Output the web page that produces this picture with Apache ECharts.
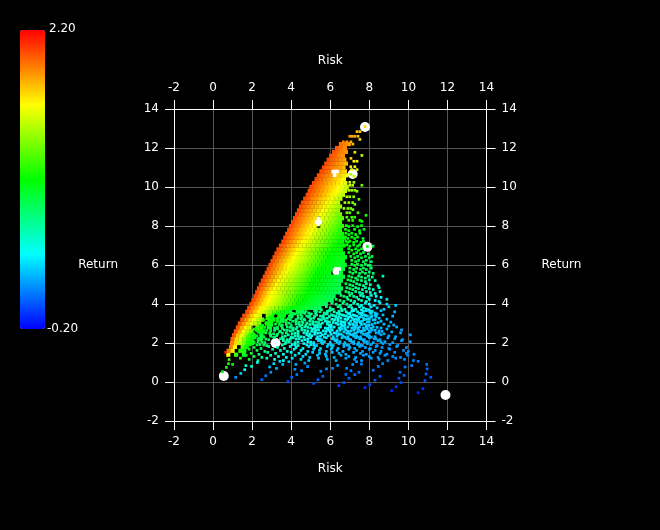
<!DOCTYPE html>
<html><head><meta charset="utf-8">
<style>html,body{margin:0;padding:0;background:#000}#c{width:660px;height:530px}</style>
<script src="https://cdn.jsdelivr.net/npm/echarts@6/dist/echarts.min.js"></script>
</head><body><div id="c"></div>
<script>
const returnRange=[-0.2,2.2];
const rampColors=['#0000ff','#00ffff','#00ff00','#ffff00','#ff0000'];
const axisRange=[-2,14];
const axisStep=2;
// highlighted portfolios: risk, return axis value
const whitePoints=[[0.55,0.31],[3.2,2.0],[5.36,8.25],[6.25,10.72],[6.36,5.7],[7.15,10.67],[7.9,6.93],[7.78,13.08],[11.9,-0.67]];
// solid part of the cloud, read row by row: [y, first x, returns at 0.2 spacing]
const cellStep=0.2;
const solidRows=[
[1.4,0.78,[1.6,null,1.15,null,0.9]],
[1.6,0.8,[1.9,1.65,null,1.1,0.95]],
[1.8,0.92,[1.9,1.6,null,1.2,1.0]],
[2.0,0.98,[1.9,1.7,1.45,1.25,1.05,0.95]],
[2.2,1.0,[1.95,1.7,1.5,1.3,1.15,1.0,null,0.8]],
[2.4,1.08,[2.0,1.75,1.55,1.35,1.2,1.05,null,0.85]],
[2.6,1.17,[2.0,1.8,1.6,1.42,1.28,null,1.05,0.92]],
[2.8,1.27,[2.0,1.8,1.62,1.48,null,1.25,1.1,null,0.95]],
[3.0,1.37,[2.0,1.85,1.7,1.55,1.42,1.3,null,1.1,1.0]],
[3.2,1.5,[2.0,1.85,1.7,1.58,1.45,1.33,null,1.1,1.0,null,0.9]],
[3.4,1.6,[2.02,1.88,1.74,1.6,1.48,null,1.3,1.2,null,1.05,0.98,null,0.9]],
[3.6,1.75,[2.02,1.88,1.75,1.61,1.5,1.4,1.3,1.2,1.1,1.0,0.95,0.9,null,0.85,0.8]],
[3.8,1.85,[2.02,1.89,1.76,1.63,1.55,1.47,1.39,1.31,1.23,1.15,1.07,1.0,0.97,0.94,0.91,0.88,0.84,0.8,0.77]],
[4.0,1.97,[2.02,1.9,1.78,1.66,1.58,1.51,1.44,1.36,1.29,1.22,1.15,1.07,1.0,0.97,0.94,0.91,0.87,0.84,0.81,0.78]],
[4.2,2.07,[2.02,1.9,1.78,1.66,1.59,1.52,1.45,1.38,1.31,1.24,1.17,1.1,1.03,0.99,0.96,0.93,0.9,0.87,0.84,0.81,0.78]],
[4.4,2.17,[2.02,1.9,1.78,1.66,1.59,1.52,1.45,1.38,1.31,1.24,1.17,1.1,1.03,1.0,0.97,0.94,0.91,0.88,0.85,0.82,0.79]],
[4.6,2.26,[2.02,1.9,1.79,1.67,1.6,1.53,1.47,1.4,1.33,1.27,1.2,1.13,1.07,1.0,0.98,0.95,0.92,0.89,0.87,0.84,0.81,0.78]],
[4.8,2.35,[2.02,1.91,1.8,1.69,1.6,1.53,1.47,1.4,1.33,1.27,1.2,1.13,1.07,1.0,0.98,0.95,0.93,0.9,0.88,0.85,0.83,0.8]],
[5.0,2.45,[2.02,1.92,1.81,1.71,1.6,1.53,1.47,1.4,1.33,1.27,1.2,1.13,1.07,1.0,0.98,0.95,0.93,0.9,0.88,0.85,0.83]],
[5.2,2.55,[2.02,1.92,1.82,1.72,1.62,1.54,1.47,1.41,1.34,1.27,1.21,1.14,1.07,1.0,0.98,0.96,0.93,0.91,0.88,0.86,0.84]],
[5.4,2.65,[2.02,1.92,1.83,1.73,1.64,1.56,1.49,1.42,1.36,1.29,1.22,1.15,1.08,1.01,0.99,0.97,0.95,0.92,0.9,0.87,0.85]],
[5.6,2.75,[2.02,1.93,1.84,1.74,1.65,1.57,1.5,1.43,1.36,1.29,1.22,1.15,1.08,1.0,0.98,0.96,0.94,null,null,0.88]],
[5.8,2.85,[2.02,1.93,1.84,1.75,1.66,1.58,1.51,1.44,1.37,1.3,1.23,1.16,1.09,1.02,1.0,0.98,0.96,null,null,0.9]],
[6.0,2.94,[2.02,1.93,1.84,1.75,1.66,1.58,1.51,1.45,1.38,1.31,1.25,1.18,1.11,1.05,1.0,0.98,0.96,0.94,0.92,0.9]],
[6.2,3.05,[2.02,1.93,1.84,1.75,1.66,1.59,1.52,1.46,1.39,1.32,1.26,1.19,1.12,1.06,1.0,0.98,0.96,0.94,0.92]],
[6.4,3.15,[2.02,1.93,1.84,1.76,1.67,1.6,1.53,1.47,1.4,1.33,1.27,1.2,1.13,1.07,1.0,0.98,0.96,0.94,0.92]],
[6.6,3.25,[2.02,1.94,1.85,1.77,1.68,1.6,1.53,1.46,1.4,1.33,1.26,1.19,1.12,1.06,1.01,0.99,0.97,0.95]],
[6.8,3.35,[2.02,1.94,1.86,1.78,1.7,1.62,1.55,1.48,1.41,1.34,1.27,1.2,1.13,1.07,1.02,1.0,0.98]],
[7.0,3.48,[2.02,1.94,1.86,1.78,1.7,1.62,1.55,1.49,1.42,1.35,1.28,1.21,1.15,1.08,1.03,1.01,0.99]],
[7.2,3.6,[2.02,1.94,1.86,1.78,1.7,1.62,1.55,1.49,1.42,1.35,1.29,1.22,1.15,1.09,1.03,1.01]],
[7.4,3.7,[2.02,1.94,1.87,1.79,1.71,1.64,1.57,1.5,1.43,1.36,1.29,1.23,1.16,1.1,1.04,1.01]],
[7.6,3.8,[2.02,1.94,1.87,1.79,1.71,1.64,1.58,1.51,1.44,1.37,1.3,1.23,1.16,1.09,1.04]],
[7.8,3.9,[2.02,1.94,1.87,1.79,1.71,1.64,1.58,1.51,1.44,1.37,1.3,1.23,1.16,1.09]],
[8.0,4.0,[2.02,1.95,1.87,1.8,1.72,1.65,1.59,null,1.45,1.38,1.31,1.24,1.17,1.1]],
[8.2,4.1,[2.02,1.95,1.88,1.81,1.74,1.67,null,null,1.46,1.39,1.32,1.25,1.18]],
[8.4,4.2,[2.02,1.95,1.88,1.81,1.74,1.67,null,1.54,1.47,1.4,1.33,1.26,1.2]],
[8.6,4.3,[2.02,1.95,1.88,1.81,1.74,1.67,1.6,1.54,1.47,1.4,1.33,1.27]],
[8.8,4.4,[2.02,1.95,1.88,1.82,1.75,1.68,1.61,1.55,1.48,1.41,1.35]],
[9.0,4.5,[2.02,1.95,1.89,1.82,1.76,1.69,1.63,1.56,1.49,1.42,1.36]],
[9.2,4.6,[2.02,1.96,1.89,1.83,1.76,1.7,1.63,1.57,1.5,1.44]],
[9.4,4.72,[2.02,1.96,1.89,1.83,1.76,1.7,1.63,1.57,1.5,1.44]],
[9.6,4.85,[2.02,1.96,1.89,1.83,1.76,1.7,1.63,1.57,1.5,1.44]],
[9.8,4.95,[2.02,1.96,1.9,1.84,1.77,1.71,1.65,1.59,1.53,1.47]],
[10.0,5.04,[2.02,1.96,1.9,1.84,1.78,1.72,1.66,1.6,1.54,1.48]],
[10.2,5.17,[2.02,1.96,1.9,1.84,1.78,1.72,1.66,1.6,1.54]],
[10.4,5.3,[2.02,1.96,1.9,1.84,1.78,1.72,1.66,1.6]],
[10.6,5.42,[2.02,1.96,1.9,1.84,null,1.72,1.66,1.6]],
[10.8,5.55,[2.02,1.96,1.91,null,null,1.75,1.7]],
[11.0,5.68,[2.02,1.97,1.92,1.87,1.82,1.77]],
[11.2,5.8,[2.02,1.97,1.92,1.87,1.82,1.77]],
[11.4,5.92,[2.02,1.97,1.92,1.87,1.82]],
[11.6,6.05,[2.0,1.95,1.9,1.85]],
[11.8,6.2,[2.0,1.95,1.9,1.85]],
[12.0,6.35,[2.0,1.93,1.87]],
[12.2,6.55,[1.95,1.9,1.84]]
];
// scattered points, read row by row: [y, x, return, x, return, ...]
const dotRows=[
[13.1,7.78,1.7],[12.84,7.37,1.75,7.52,1.72],[12.6,7.0,1.85,7.13,1.8,7.26,1.78,7.42,1.74],[12.44,7.52,1.7],
[12.32,6.67,1.9,6.85,1.85,7.06,1.8],[12.2,7.16,1.75],[11.78,7.26,1.68],[11.62,7.62,1.45],[11.47,7.06,1.72],
[11.32,7.21,1.6,7.37,1.55],[11.04,7.05,1.65,7.26,1.55],[10.89,7.1,1.6,7.37,1.5],[10.65,7.05,1.4],[10.55,7.21,1.45],[10.24,7.0,1.5,7.21,1.4],
[10.09,7.0,1.45,7.15,1.4,7.62,1.25],[9.83,6.95,1.42,7.1,1.38,7.26,1.35],[9.78,7.37,1.3],[9.5,6.85,1.4,7.0,1.35,7.2,1.28],[9.37,7.47,1.2],[9.2,6.75,1.4,6.95,1.33,7.15,1.28],
[9.11,7.26,1.25],[8.9,6.7,1.38,6.9,1.3,7.05,1.27],[8.84,7.16,1.25],[8.68,6.85,1.27,7.0,1.22,7.42,1.15],[8.55,7.83,1.05],[8.45,6.85,1.22,7.1,1.15,7.25,1.12],
[8.29,6.95,1.18,7.15,1.12,7.52,1.08],[8.24,7.62,1.05],
[8.02,6.82,1.05,7.15,1.0,7.6,0.97],[7.97,6.95,1.02,7.4,0.98],[7.83,6.78,1.05,7.25,0.98,7.73,0.95],[7.76,6.95,1.0,7.5,0.96],[7.63,6.8,1.03,7.1,0.99,7.52,0.95],[7.56,6.95,1.0,7.3,0.97],
[7.43,6.78,1.02,7.1,0.98,7.4,0.96],[7.36,6.9,1.0,7.25,0.97,7.68,0.92],[7.22,6.8,1.01,7.0,0.99,7.35,0.95,7.7,0.92],[7.16,6.9,1.0,7.2,0.97,7.57,0.93],
[7.03,6.85,0.98,7.2,0.95,7.5,0.92],[6.97,7.0,0.97,7.4,0.93,8.19,0.86],[6.95,7.9,0.95],[6.83,6.95,0.97,7.3,0.94,7.6,0.9],[6.76,7.1,0.96,7.45,0.93],
[6.64,6.95,0.96,7.35,0.92,7.7,0.88],[6.57,7.2,0.93,7.55,0.9,7.95,0.85],[6.44,7.05,0.93,7.4,0.9,7.8,0.86,8.14,0.82],[6.37,7.25,0.91,7.6,0.88,8.0,0.84],
[6.24,7.1,0.9,7.45,0.87,7.85,0.82],[6.17,7.3,0.88,7.7,0.84,8.1,0.8],[6.04,7.1,0.88,7.4,0.85,7.8,0.82],[5.98,7.25,0.86,7.6,0.83,7.95,0.8,8.05,0.79],
[5.84,7.0,0.88,7.35,0.84,7.7,0.8,8.1,0.76],[5.77,7.2,0.86,7.55,0.82,7.85,0.79],[5.64,7.0,0.86,7.3,0.83,7.65,0.78,8.0,0.74],[5.57,7.15,0.84,7.5,0.8,7.8,0.76,8.2,0.72],
[5.43,6.95,0.86,7.45,0.78,7.95,0.71,8.7,0.6],[5.38,7.1,0.84,7.6,0.76,8.15,0.68],[5.33,7.3,0.8,7.8,0.73],
[5.24,6.9,0.84,7.4,0.76,8.0,0.64],[5.2,7.05,0.82,7.6,0.72,8.3,0.6],[5.15,7.2,0.8,7.8,0.68],
[5.04,6.8,0.85,7.35,0.74,7.85,0.63],[4.99,7.0,0.8,7.5,0.71,8.05,0.6],[4.94,7.15,0.78,7.7,0.66,8.45,0.55],
[4.84,6.85,0.8,7.3,0.7,7.8,0.59,8.5,0.5],[4.79,7.0,0.77,7.45,0.67,8.0,0.56],[4.74,7.15,0.74,7.65,0.62,8.2,0.53],
[4.64,6.8,0.78,7.3,0.66,7.85,0.55,8.55,0.45],[4.59,6.95,0.75,7.5,0.62,8.05,0.52],[4.54,7.1,0.7,7.65,0.58,8.3,0.48],
[4.44,6.55,0.8,7.0,0.7,7.55,0.57,8.1,0.47],[4.39,6.7,0.76,7.2,0.65,7.7,0.53,8.35,0.43],[4.34,6.85,0.73,7.35,0.6,7.9,0.5,8.6,0.4],
[4.24,6.3,0.8,6.9,0.68,7.45,0.55,8.0,0.45,8.9,0.35],[4.18,6.5,0.76,7.05,0.65,7.6,0.52,8.3,0.4],[4.13,6.7,0.72,7.25,0.6,7.85,0.48,8.5,0.38],
[4.05,6.1,0.78,6.65,0.67,7.2,0.55,7.8,0.43,8.55,0.33],[3.99,6.3,0.75,6.85,0.64,7.4,0.5,8.0,0.4,8.9,0.3],[3.93,6.5,0.7,7.05,0.6,7.6,0.47,8.25,0.37,9.35,0.28],
[3.86,5.8,0.75,6.4,0.65,6.95,0.55,7.5,0.44,8.1,0.34,9.0,0.26],[3.8,6.0,0.72,6.55,0.62,7.1,0.52,7.7,0.4,8.4,0.3],[3.73,6.15,0.7,6.75,0.58,7.3,0.47,7.85,0.38,8.75,0.28],
[3.7,5.55,0.72,6.05,0.65,6.6,0.55,7.15,0.47,7.6,0.42,8.0,0.37],[3.63,4.75,0.8,5.3,0.72,5.85,0.65,6.45,0.57,7.1,0.46,7.7,0.38,8.15,0.33],
[3.66,4.3,0.85,5.2,0.72,5.95,0.63,6.6,0.52,7.2,0.42,7.85,0.35,8.6,0.26],[3.6,4.62,0.8,5.47,0.7,6.2,0.6,6.82,0.48,7.4,0.4,8.02,0.32,9.3,0.24],[3.54,4.9,0.77,5.7,0.67,6.42,0.56,7.0,0.46,7.63,0.37,8.3,0.28],
[3.52,3.3,0.95,3.75,0.9,4.1,0.83,4.7,0.74,5.25,0.66,5.85,0.58,6.35,0.5,6.9,0.44,7.5,0.37,8.1,0.33],[3.41,3.65,0.9,4.05,0.82,4.35,0.77,4.95,0.68,5.65,0.6,6.15,0.53,6.7,0.45,7.25,0.4,7.8,0.35,8.3,0.3],
[3.49,3.1,1.0,4.2,0.8,5.03,0.68,5.8,0.58,6.48,0.49,7.0,0.41,7.58,0.35,8.4,0.26],[3.44,3.52,0.92,4.5,0.75,5.3,0.64,6.07,0.55,6.62,0.46,7.17,0.39,7.72,0.33,8.7,0.25],[3.38,3.9,0.85,4.8,0.7,5.5,0.62,6.27,0.52,6.82,0.43,7.35,0.37,7.9,0.31,8.13,0.28,9.2,0.23],
[3.36,3.05,1.0,3.45,0.92,4.55,0.74,5.2,0.64,5.95,0.55,6.45,0.47,7.05,0.4,7.6,0.35,8.35,0.29],[3.25,2.75,1.05,3.1,0.97,3.85,0.83,4.5,0.72,5.0,0.65,5.7,0.55,6.4,0.45,6.9,0.4,7.45,0.35,8.0,0.31],
[3.33,2.9,1.0,4.02,0.8,4.9,0.66,5.62,0.56,6.3,0.48,6.95,0.39,7.5,0.33,8.1,0.28],[3.27,3.3,0.92,4.35,0.74,5.15,0.62,5.85,0.53,6.55,0.44,7.12,0.37,7.7,0.31,8.5,0.26],[3.22,3.6,0.87,4.65,0.7,5.4,0.59,6.1,0.5,6.75,0.41,7.3,0.35,7.87,0.3,8.9,0.24],
[3.2,3.3,0.92,3.95,0.8,4.25,0.75,5.55,0.58,6.25,0.47,7.2,0.37,7.75,0.33,8.3,0.29],[3.1,2.85,1.0,3.3,0.9,3.6,0.85,4.25,0.74,4.55,0.7,5.1,0.62,5.85,0.52,6.55,0.43,7.5,0.34,8.0,0.3],
[3.18,2.6,1.05,3.75,0.83,4.7,0.67,5.5,0.55,6.2,0.46,6.85,0.38,7.4,0.33,8.2,0.27],[3.12,3.02,0.97,4.1,0.77,4.95,0.63,5.75,0.52,6.4,0.44,7.05,0.36,7.65,0.31,8.6,0.25],[3.07,3.45,0.88,4.4,0.72,5.25,0.59,5.95,0.5,6.65,0.41,7.25,0.34,7.9,0.29,9.1,0.23],
[3.05,2.9,0.97,3.75,0.82,4.6,0.68,5.4,0.57,6.15,0.47,6.75,0.4,7.35,0.34,8.45,0.27],[2.95,2.95,0.92,3.4,0.85,3.75,0.8,4.4,0.69,4.95,0.6,5.5,0.52,6.4,0.42,7.0,0.36,7.6,0.31,8.15,0.28],
[3.02,2.7,0.98,3.9,0.77,4.8,0.62,5.6,0.5,6.3,0.42,6.95,0.36,7.55,0.31,8.3,0.26],[2.97,3.2,0.9,4.25,0.71,5.1,0.58,5.85,0.47,6.55,0.4,7.15,0.34,7.75,0.3,8.75,0.25],[2.92,3.55,0.83,4.55,0.66,5.35,0.54,6.05,0.45,6.75,0.38,7.35,0.33,8.0,0.28,9.25,0.23],
[2.9,2.55,1.0,3.0,0.88,4.0,0.74,4.75,0.62,5.2,0.56,5.95,0.46,6.6,0.39,7.2,0.34,7.85,0.3],[2.8,2.65,0.95,3.3,0.81,3.95,0.69,4.3,0.63,4.85,0.54,5.35,0.48,6.05,0.41,6.55,0.37,7.25,0.31,7.85,0.28,8.4,0.25],
[2.87,2.4,1.0,3.5,0.77,4.45,0.6,5.25,0.49,6.0,0.41,6.7,0.35,7.3,0.3,7.95,0.27,9.0,0.22],[2.82,2.82,0.9,3.8,0.72,4.7,0.56,5.5,0.46,6.2,0.39,6.9,0.33,7.5,0.29,8.2,0.25,9.4,0.21],[2.77,3.15,0.83,4.1,0.66,5.0,0.52,5.75,0.43,6.45,0.37,7.1,0.32,7.7,0.28,8.6,0.24],
[2.75,2.25,1.05,2.95,0.87,3.55,0.74,4.55,0.58,5.2,0.48,5.9,0.41,6.75,0.35,7.4,0.3,8.1,0.26],[2.65,2.2,1.0,2.75,0.9,3.15,0.8,3.8,0.68,4.1,0.63,4.7,0.53,5.25,0.46,5.95,0.38,6.5,0.34,7.2,0.3,7.75,0.27,8.3,0.24],
[2.72,2.1,1.05,3.3,0.78,4.25,0.6,5.1,0.47,5.85,0.39,6.6,0.33,7.25,0.29,7.9,0.26,8.9,0.21],[2.67,2.5,0.95,3.65,0.72,4.55,0.55,5.4,0.43,6.1,0.37,6.8,0.32,7.45,0.28,8.15,0.24,9.65,0.19],[2.62,2.95,0.85,3.95,0.66,4.85,0.5,5.65,0.41,6.35,0.35,7.05,0.3,7.65,0.27,8.5,0.23],
[2.6,2.5,0.93,3.45,0.74,4.35,0.58,5.05,0.47,5.8,0.39,6.9,0.31,7.55,0.27,8.0,0.25,8.65,0.22],[2.5,2.05,1.02,2.9,0.84,3.55,0.71,4.2,0.59,4.8,0.49,5.35,0.41,6.3,0.33,6.85,0.3,7.3,0.28,7.95,0.25,8.5,0.22],
[2.57,2.3,0.95,3.4,0.74,4.35,0.56,5.2,0.43,6.0,0.36,6.7,0.31,7.4,0.27,8.05,0.24,9.15,0.2],[2.52,2.7,0.88,3.75,0.68,4.65,0.51,5.5,0.4,6.2,0.34,6.95,0.3,7.6,0.26,8.35,0.22,9.6,0.18],[2.47,3.1,0.8,4.05,0.62,4.95,0.46,5.75,0.38,6.45,0.33,7.2,0.28,7.85,0.25,8.75,0.21],
[2.45,2.45,0.9,3.3,0.74,4.35,0.56,5.2,0.42,6.05,0.35,6.55,0.32,7.0,0.29,7.7,0.25],[2.35,1.8,1.1,2.95,0.78,3.7,0.64,4.35,0.53,4.9,0.44,5.5,0.37,6.35,0.31,7.2,0.27,7.9,0.24],
[2.42,1.95,1.05,2.95,0.78,3.85,0.61,4.8,0.45,5.6,0.36,6.4,0.31,7.1,0.27,7.8,0.24,8.6,0.2,10.1,0.16],[2.37,2.25,0.92,3.25,0.72,4.2,0.55,5.05,0.42,5.9,0.34,6.65,0.3,7.35,0.26,8.0,0.23,9.0,0.19],[2.32,2.6,0.85,3.55,0.67,4.5,0.5,5.35,0.38,6.15,0.32,6.9,0.28,7.55,0.25,8.3,0.22,9.35,0.18],
[2.3,2.1,0.95,3.1,0.74,4.0,0.58,4.65,0.47,5.7,0.34,6.75,0.29,7.4,0.26,8.1,0.22],[2.2,1.85,1.08,2.3,0.87,2.7,0.79,3.6,0.62,3.95,0.56,4.25,0.51,4.85,0.41,5.45,0.35,6.2,0.3,6.95,0.27,7.6,0.24,8.35,0.2],
[2.27,2.15,0.92,3.15,0.7,4.1,0.53,5.0,0.39,5.8,0.32,6.6,0.28,7.3,0.25,8.0,0.22,8.95,0.19],[2.22,2.5,0.82,3.45,0.65,4.4,0.48,5.3,0.36,6.1,0.31,6.85,0.27,7.5,0.24,8.25,0.21,9.3,0.18],[2.17,2.85,0.76,3.8,0.58,4.7,0.43,5.55,0.34,6.35,0.3,7.05,0.26,7.75,0.23,8.55,0.2,9.7,0.17],
[2.12,1.95,1.0,3.6,0.6,4.55,0.44,5.4,0.33,6.25,0.28,7.0,0.25,7.7,0.22,8.45,0.19,9.65,0.16],[2.07,2.3,0.85,3.9,0.55,4.85,0.4,5.7,0.31,6.5,0.27,7.2,0.24,7.9,0.21,8.8,0.18,10.1,0.15],[2.02,2.65,0.78,4.2,0.5,5.15,0.36,6.0,0.3,6.75,0.26,7.45,0.23,8.2,0.2,9.2,0.17],
[2.05,1.75,1.05,2.1,0.95,2.5,0.8,3.75,0.58,4.35,0.47,5.0,0.37,5.55,0.32,6.35,0.28,7.1,0.24,7.75,0.21,8.6,0.18],[1.9,1.9,1.0,2.25,0.85,2.6,0.76,3.55,0.57,4.2,0.46,4.8,0.38,5.15,0.33,6.05,0.27,6.85,0.24,7.55,0.21],
[1.97,2.05,0.95,3.7,0.58,4.65,0.4,5.6,0.3,6.45,0.26,7.2,0.23,7.9,0.2,8.7,0.18],[1.92,2.4,0.8,4.05,0.5,5.0,0.36,5.9,0.29,6.7,0.25,7.4,0.22,8.1,0.19,9.05,0.17],[1.87,2.75,0.72,4.35,0.45,5.3,0.33,6.15,0.27,6.95,0.24,7.65,0.21,8.4,0.18,9.45,0.16],
[1.82,1.75,1.0,2.85,0.68,3.95,0.47,4.9,0.34,5.85,0.27,6.7,0.24,7.5,0.21,8.35,0.18,9.4,0.16],[1.77,2.1,0.9,3.3,0.6,4.25,0.43,5.2,0.31,6.1,0.26,7.0,0.23,7.8,0.2,8.65,0.17,9.9,0.14],[1.72,2.45,0.78,3.65,0.53,4.6,0.38,5.5,0.29,6.4,0.25,7.25,0.22,8.05,0.19,9.0,0.16],
[1.68,1.85,0.95,3.05,0.6,4.15,0.41,5.15,0.3,6.05,0.25,6.95,0.22,8.0,0.18,9.05,0.15],[1.62,2.25,0.8,3.45,0.52,4.5,0.37,5.45,0.28,6.35,0.24,7.35,0.2,8.3,0.17,9.75,0.13],[1.57,2.65,0.7,3.8,0.47,4.85,0.33,5.8,0.26,6.65,0.23,7.65,0.19,8.6,0.16,10.0,0.13],
[1.52,0.65,2.1,1.55,1.1,2.8,0.63,4.0,0.41,5.1,0.29,6.1,0.24,7.2,0.2,8.2,0.17,9.3,0.14],[1.47,1.95,0.9,3.2,0.54,4.4,0.36,5.45,0.27,6.45,0.22,7.55,0.19,8.55,0.16,9.9,0.13],[1.42,2.35,0.75,3.6,0.46,4.75,0.32,5.75,0.25,6.8,0.21,7.85,0.18,8.9,0.15,10.29,0.12],
[1.37,1.7,1.0,2.95,0.57,4.2,0.36,5.35,0.26,6.55,0.21,7.7,0.18,8.8,0.14,9.97,0.12],[1.31,2.1,0.8,3.35,0.48,4.6,0.32,5.8,0.24,6.95,0.2,8.0,0.17,9.2,0.14],[1.26,2.5,0.68,3.75,0.42,4.95,0.29,6.2,0.22,7.3,0.19,8.45,0.15,9.6,0.13],
[1.22,1.4,1.1,2.75,0.58,4.05,0.35,5.4,0.25,6.8,0.2,8.1,0.16,9.35,0.13],[1.16,1.85,0.85,3.15,0.49,4.5,0.31,5.85,0.23,7.25,0.18,8.5,0.15,9.8,0.12],[1.15,0.82,1.2],[1.1,2.3,0.7,3.6,0.41,4.9,0.28,6.3,0.21,7.6,0.17,8.95,0.14,10.26,0.11],
[1.06,3.42,0.3,10.5,0.1],[1.04,3.88,0.27,7.35,0.15],[1.0,2.27,0.45],[0.97,4.7,0.2],[0.94,3.11,0.3,8.68,0.11,0.79,1.05],
[0.9,3.57,0.25,4.24,0.2,7.15,0.14,10.94,0.07,1.0,0.95],[0.85,6.38,0.15],[0.92,7.6,0.13],
[0.84,1.68,0.55,10.17,0.1],[0.8,1.97,0.5,8.46,0.1],[0.79,4.84,0.17],[0.77,2.9,0.25,9.83,0.08],[0.75,0.68,1.0],
[0.7,3.25,0.22,6.12,0.12,6.84,0.12],[0.67,5.81,0.12,10.96,0.05],[0.65,4.19,0.13],[0.63,1.62,0.4],[0.6,8.2,0.07],[0.58,4.53,0.12,7.06,0.1],[0.55,5.52,0.1],[0.53,0.48,1.0],[0.5,2.96,0.15,9.57,0.05,7.47,0.07],
[0.44,1.42,0.3],[0.41,10.9,0.03],[0.39,6.8,0.06],[0.38,7.26,0.06],[0.34,9.78,0.03],[0.38,4.29,0.08],
[0.32,2.7,0.08],[0.29,5.62,0.05,8.55,0.02],[0.24,1.16,0.15,4.03,0.03,11.15,0.0],
[0.19,6.96,0.02,9.52,0.0],[0.12,2.5,0.05,5.37,0.02],[0.09,8.29,-0.01],[0.07,10.85,-0.02],[0.02,3.83,-0.03],
[-0.03,6.7,-0.02,9.62,-0.03],[-0.07,5.15,-0.02],[-0.14,8.03,-0.05],[-0.19,6.44,-0.05],[-0.24,9.37,-0.07],[-0.29,7.78,-0.08],[-0.34,10.74,-0.08],[-0.44,9.15,-0.1],[-0.55,10.5,-0.12]
];
const solidData=[];
solidRows.forEach(([y,x0,vals])=>vals.forEach((c,k)=>{if(c!==null)solidData.push([x0+k*cellStep,y,c]);}));
const dotData=[];
dotRows.forEach(r=>{for(let i=1;i<r.length;i+=2)dotData.push([r[i],r[0],r[i+1]]);});
const textStyle={color:'#fff',fontSize:12,fontFamily:'DejaVu Sans'};
function xAx(pos,split){return{type:'value',position:pos,min:axisRange[0],max:axisRange[1],interval:axisStep,name:'Risk',nameLocation:'middle',nameGap:42,nameTextStyle:textStyle,
 axisLine:{show:true,onZero:false,lineStyle:{color:'#fff',width:1}},axisTick:{show:true,length:9,lineStyle:{color:'#fff'}},axisLabel:Object.assign({margin:15,showMinLabel:true,showMaxLabel:true},textStyle),splitLine:{show:split,lineStyle:{color:'#555',width:1}}};}
function yAx(pos,split){return{type:'value',position:pos,min:axisRange[0],max:axisRange[1],interval:axisStep,name:'Return',nameLocation:'middle',nameRotate:0,nameGap:pos==='left'?56:55,nameTextStyle:textStyle,
 axisLine:{show:true,onZero:false,lineStyle:{color:'#fff',width:1}},axisTick:{show:true,length:9,lineStyle:{color:'#fff'}},axisLabel:Object.assign({margin:15,showMinLabel:true,showMaxLabel:true},textStyle),splitLine:{show:split,lineStyle:{color:'#555',width:1}}};}
const chart=echarts.init(document.getElementById('c'),null,{renderer:'canvas'});
chart.setOption({
 backgroundColor:'#000',animation:false,
 grid:{left:174,right:173.5,top:109,bottom:109,containLabel:false},
 xAxis:[xAx('bottom',true),xAx('top',false)],
 yAxis:[yAx('left',true),yAx('right',false)],
 visualMap:{type:'continuous',min:returnRange[0],max:returnRange[1],dimension:2,seriesIndex:[1,2],left:5,top:15,itemWidth:25,itemHeight:299,calculable:false,text:null,showLabel:false,inRange:{color:rampColors},borderWidth:0,textStyle:{color:'#fff'}},
 graphic:[
  {type:'text',left:49,top:23,z:100,style:{text:returnRange[1].toFixed(2),fill:'#fff',font:'12px "DejaVu Sans"'}},
  {type:'text',left:47,top:323,z:100,style:{text:returnRange[0].toFixed(2),fill:'#fff',font:'12px "DejaVu Sans"'}}
 ],
 series:[
  {type:'scatter',silent:true,data:whitePoints,symbol:'circle',symbolSize:10,itemStyle:{color:'#fff',opacity:1},z:2},
  {type:'scatter',silent:true,data:solidData,symbol:'rect',symbolSize:4.2,itemStyle:{opacity:1},z:3},
  {type:'scatter',silent:true,data:dotData,symbol:'rect',symbolSize:2.7,itemStyle:{opacity:1},z:4}
 ]
});
</script></body></html>
